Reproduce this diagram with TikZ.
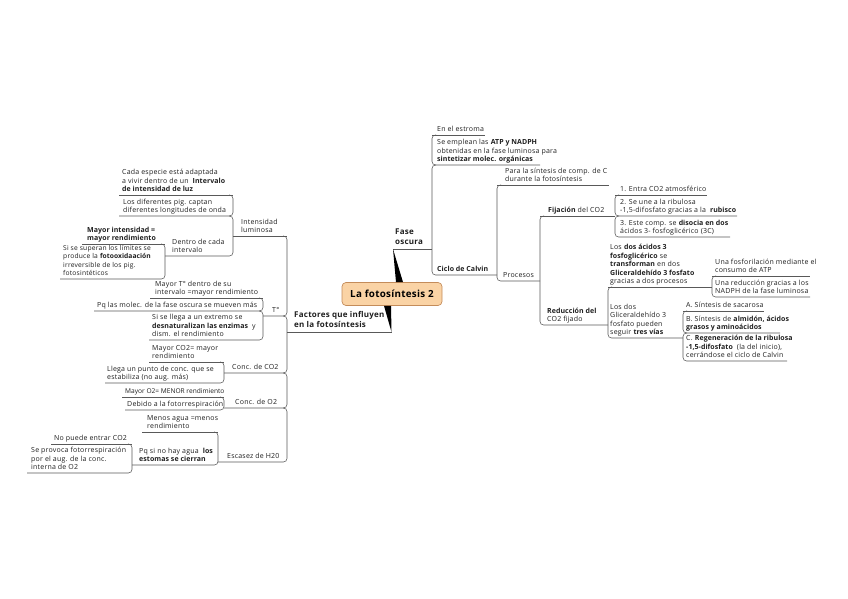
\documentclass[tikz,border=0pt]{standalone}
\usepackage{fontspec}
\newfontfamily\tf[LetterSpace=3,BoldFeatures={LetterSpace=0.8}]{Open Sans}
\newfontfamily\tfB[LetterSpace=3]{Open Sans}
\newfontfamily\tfn{Open Sans}
\usetikzlibrary{calc}
\newcommand\tfs{\tf\fontsize{7bp}{8.5bp}\selectfont}
\newcommand\tfb{\tfB\bfseries\fontsize{8bp}{10bp}\selectfont}
\definecolor{peach}{RGB}{250,211,165}
\definecolor{peachdark}{RGB}{196,140,90}
\tikzset{
  t/.style={font=\tfs, text=black!88, align=left, inner sep=0pt, text depth=1.6bp, anchor=south west},
  tb/.style={t, font=\tfb, text depth=2bp},
  ln/.style={draw=black!65, line width=0.55bp},
  rc/.style={ln, rounded corners=3.5bp},
  rootbox/.style={draw=peachdark, fill=peach, line width=0.7bp, rounded corners=4bp,
     minimum width=100bp, minimum height=23bp, inner sep=0pt, font=\tfB\bfseries\fontsize{9.8bp}{11bp}\selectfont}
}
\begin{document}
\begin{tikzpicture}[x=1bp,y=-1bp]
\useasboundingbox (0,0) rectangle (848,599);
% root
\node[rootbox] (root) at (392,294) {La fotosíntesis 2};
% ---------- right side ----------
\node[tb] (fase) at (395,247) {Fase\\oscura};
\coordinate (fo) at (393,249);
\draw[ln] (fo) -- (432,249);
\fill[black] (fo) -- ($(root.north)+(4,0)$) -- ($(root.north)+(11,0)$) -- cycle;

\node[t] (estroma) at (437,133.5) {En el estroma};
\node[t] (emplean) at (437,163.5) {Se emplean las \textbf{ATP y NADPH}\\obtenidas en la fase luminosa para\\\textbf{sintetizar molec. orgánicas}};
\node[t,font=\tfs\bfseries] (calvin) at (437,273.5) {Ciclo de Calvin};
\draw[ln] (432,135) -- (485,135);
\draw[rc] (436,135) -- (432,135) -- (432,165) -- (540,165);
\draw[rc] (436,165) -- (432,165) -- (432,275) -- (497,275);

\node[t] (para) at (505,183.5) {Para la síntesis de comp. de C\\durante la fotosíntesis};
\node[t] (procesos) at (503,279.5) {Procesos};
\draw[ln] (497,185) -- (609,185);
\draw[rc] (501,185) -- (497,185) -- (497,281) -- (540,281);

\node[t] (fijacion) at (548,214.5) {\textbf{Fijación} del CO2};
\node[t] (reduccion) at (547,323.5) {\textbf{Reducción del}\\CO2 fijado};
\draw[ln] (540,216) -- (615,216);
\draw[rc] (544,216) -- (540,216) -- (540,325) -- (608,325);

\node[t] (f1) at (620,193.5) {1. Entra CO2 atmosférico};
\node[t] (f2) at (620,214.5) {2. Se une a la ribulosa\\-1,5-difosfato gracias a la \ \textbf{rubisco}};
\node[t] (f3) at (620,235.5) {3. Este comp. se \textbf{disocia en dos}\\ácidos 3- fosfoglicérico (3C)};
\draw[ln] (615,195) -- (707,195);
\draw[rc] (619,195) -- (615,195) -- (615,216) -- (737,216);
\draw[rc] (619,216) -- (615,216) -- (615,237) -- (730,237);

\node[t] (g1) at (610,285.5) {Los \textbf{dos ácidos 3}\\\textbf{fosfoglicérico} se\\\textbf{transforman} en dos\\\textbf{Gliceraldehído 3 fosfato}\\gracias a dos procesos};
\node[t] (g2) at (610,336.5) {Los dos\\Gliceraldehído 3\\fosfato pueden\\seguir \textbf{tres vías}};
\draw[ln] (608,287) -- (712,287);
\draw[rc] (612,287) -- (608,287) -- (608,338) -- (683,338);

\node[t] (h1) at (715,274.5) {Una fosforilación mediante el\\consumo de ATP};
\node[t] (h2) at (715,295.5) {Una reducción gracias a los\\NADPH de la fase luminosa};
\draw[ln] (712,276) -- (810,276);
\draw[rc] (716,276) -- (712,276) -- (712,297) -- (810,297);

\node[t] (i1) at (686,309.5) {A. Síntesis de sacarosa};
\node[t] (i2) at (686,331.5) {B. Síntesis de \textbf{almidón, ácidos}\\\textbf{grasos y aminoácidos}};
\node[t] (i3) at (686,359.5) {C. \textbf{Regeneración de la ribulosa}\\\textbf{-1,5-difosfato} \ (la del inicio),\\cerrándose el ciclo de Calvin};
\draw[ln] (683,311) -- (764,311);
\draw[rc] (687,311) -- (683,311) -- (683,333) -- (780,333);
\draw[rc] (687,333) -- (683,333) -- (683,361) -- (787,361);

% ---------- left side ----------
\node[tb] (factores) at (294,330) {Factores que influyen\\en la fotosíntesis};
\coordinate (fa) at (391.5,332);
\draw[ln] (287,332) -- (fa);
\fill[black] ($(root.south)+(-8,0)$) -- ($(root.south)+(-1,0)$) -- (fa) -- cycle;

\node[t] (j1) at (241,234.5) {Intensidad\\luminosa};
\node[t] (j2) at (272,314.5) {T°};
\node[t] (j3) at (232,371.5) {Conc. de CO2};
\node[t] (j4) at (235,406.5) {Conc. de O2};
\node[t] (j5) at (227,460.5) {Escasez de H20};
\draw[ln] (233,236) -- (287,236);
\draw[rc] (283,236) -- (287,236) -- (287,316) -- (263,316);
\draw[rc] (283,316) -- (287,316) -- (287,373) -- (224,373);
\draw[rc] (283,373) -- (287,373) -- (287,408) -- (224,408);
\draw[rc] (283,408) -- (287,408) -- (287,462) -- (218,462);

\node[t] (k1) at (122,193.5) {Cada especie está adaptada\\a vivir dentro de un \ \textbf{Intervalo}\\\textbf{de intensidad de luz}};
\node[t] (k2) at (123,214.5) {Los diferentes pig. captan\\diferentes longitudes de onda};
\node[t] (k3) at (172,254.5) {Dentro de cada\\intervalo};
\draw[ln] (119,195) -- (233,195);
\draw[rc] (229,195) -- (233,195) -- (233,216) -- (119,216);
\draw[rc] (229,216) -- (233,216) -- (233,256) -- (165,256);

\node[t] (l1) at (87,242.5) {\textbf{Mayor intensidad =}\\\textbf{mayor rendimiento}};
\node[t,font=\tf\fontsize{6.7bp}{8.5bp}\selectfont] (l2) at (63,277.5) {Si se superan los límites se\\produce la \textbf{fotooxidaación}\\irreversible de los pig.\\fotosintéticos};
\draw[ln] (82,244) -- (165,244);
\draw[rc] (161,244) -- (165,244) -- (165,279) -- (60,279);

\node[t] (m1) at (155,296.5) {Mayor T° dentro de su\\intervalo =mayor rendimiento};
\node[t] (m2) at (97,309.5) {Pq las molec. de la fase oscura se mueven más};
\node[t] (m3) at (152,338.5) {Si se llega a un extremo se\\\textbf{desnaturalizan las enzimas} \ y\\dism. el rendimiento};
\draw[ln] (150,298) -- (263,298);
\draw[rc] (259,298) -- (263,298) -- (263,311) -- (94,311);
\draw[rc] (259,311) -- (263,311) -- (263,340) -- (149,340);

\node[t] (n1) at (152,360.5) {Mayor CO2= mayor\\rendimiento};
\node[t] (n2) at (107,381.5) {Llega un punto de conc. que se\\estabiliza (no aug. más)};
\draw[ln] (149,362) -- (224,362);
\draw[rc] (220,362) -- (224,362) -- (224,383) -- (105,383);

\node[t,font=\tfn\fontsize{6.6bp}{8.5bp}\selectfont] (o1) at (125,395.5) {Mayor O2= MENOR rendimiento};
\node[t] (o2) at (127,408.5) {Debido a la fotorrespiración};
\draw[ln] (122,397) -- (224,397);
\draw[rc] (220,397) -- (224,397) -- (224,410) -- (125,410);

\node[t] (p1) at (147,430.5) {Menos agua =menos\\rendimiento};
\node[t] (p2) at (139,463.5) {Pq si no hay agua \ \textbf{los}\\\textbf{estomas se cierran}};
\draw[ln] (142,432) -- (218,432);
\draw[rc] (214,432) -- (218,432) -- (218,465) -- (132,465);

\node[t] (q1) at (54,442.5) {No puede entrar CO2};
\node[t] (q2) at (31,471.5) {Se provoca fotorrespiración\\por el aug. de la conc.\\interna de O2};
\draw[ln] (51,444) -- (132,444);
\draw[rc] (128,444) -- (132,444) -- (132,473) -- (27,473);
\end{tikzpicture}
\end{document}
